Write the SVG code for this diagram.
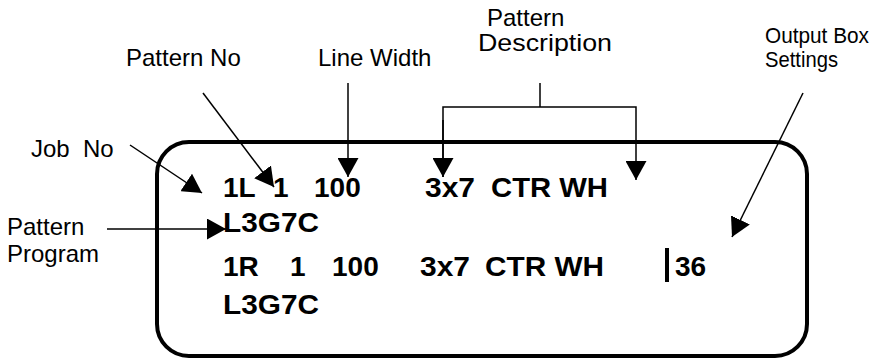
<svg xmlns="http://www.w3.org/2000/svg" width="875" height="360" viewBox="0 0 875 360">
<style>
.lbl{font-family:"Liberation Sans",Arial,sans-serif;font-size:24px;fill:#000}
.row{font-family:"Liberation Sans",Arial,sans-serif;font-size:28px;font-weight:bold;fill:#000}
.ln{stroke:#000;stroke-width:1.5;fill:none}
</style>
<defs>
<marker id="ah" markerWidth="21" markerHeight="21" refX="19" refY="10.5" orient="auto" markerUnits="userSpaceOnUse">
<path d="M0,0 L19,10.5 L0,21 z" fill="#000"/>
</marker>
</defs>
<rect width="875" height="360" fill="#fff"/>
<g id="box">
<rect x="157" y="142" width="650" height="214" rx="32" ry="32" fill="none" stroke="#000" stroke-width="4"/>
</g>
<g id="rows">
<text class="row" x="223" y="197">1L</text>
<text class="row" x="273" y="197">1</text>
<text class="row" x="314" y="197">100</text>
<text class="row" x="425" y="197" textLength="50" lengthAdjust="spacingAndGlyphs">3x7</text>
<text class="row" x="491" y="197" textLength="117" lengthAdjust="spacingAndGlyphs">CTR WH</text>
<text class="row" x="223" y="232" textLength="96" lengthAdjust="spacingAndGlyphs">L3G7C</text>
<text class="row" x="223" y="276">1R</text>
<text class="row" x="290" y="276">1</text>
<text class="row" x="332" y="276">100</text>
<text class="row" x="420" y="276" textLength="50" lengthAdjust="spacingAndGlyphs">3x7</text>
<text class="row" x="485" y="276" textLength="119" lengthAdjust="spacingAndGlyphs">CTR WH</text>
<rect x="665" y="248" width="4" height="34" fill="#000"/>
<text class="row" x="675" y="276">36</text>
<text class="row" x="223" y="314" textLength="96" lengthAdjust="spacingAndGlyphs">L3G7C</text>
</g>
<g id="labels">
<text id="job-no" class="lbl" x="31" y="157" xml:space="preserve">Job  No</text>
<text id="pattern-no" class="lbl" x="126" y="66">Pattern No</text>
<text id="line-width" class="lbl" x="318" y="66">Line Width</text>
<text id="pattern-desc" class="lbl"><tspan x="487" y="26">Pattern</tspan><tspan x="478" y="51" textLength="134" lengthAdjust="spacingAndGlyphs">Description</tspan></text>
<text id="output-box" class="lbl" style="font-size:21.5px"><tspan x="765" y="43" textLength="104" lengthAdjust="spacingAndGlyphs">Output Box</tspan><tspan x="765" y="67" textLength="73" lengthAdjust="spacingAndGlyphs">Settings</tspan></text>
<text id="pattern-program" class="lbl"><tspan x="7" y="235">Pattern</tspan><tspan x="7" y="262">Program</tspan></text>
</g>
<g id="connectors">
<line class="ln" x1="130" y1="145" x2="202" y2="193" marker-end="url(#ah)"/>
<line class="ln" x1="203" y1="93" x2="274" y2="187" marker-end="url(#ah)"/>
<line class="ln" x1="348" y1="83" x2="348" y2="177" marker-end="url(#ah)"/>
<polyline class="ln" points="540,83 540,107"/>
<polyline class="ln" points="443,177 443,107 636,107 636,180" marker-end="url(#ah)"/>
<line class="ln" x1="443" y1="120" x2="443" y2="177" marker-end="url(#ah)"/>
<line class="ln" x1="803" y1="93" x2="732" y2="237" marker-end="url(#ah)"/>
<line class="ln" x1="107" y1="229" x2="226" y2="229" marker-end="url(#ah)"/>
</g>
</svg>
